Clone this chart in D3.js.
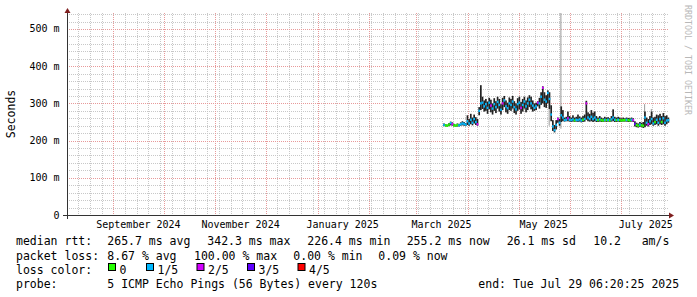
<!DOCTYPE html>
<html>
<head>
<meta charset="utf-8">
<script src="https://cdn.jsdelivr.net/npm/d3@7/dist/d3.min.js"></script>
<style>
  body { margin: 0; background: #fff; }
  svg text { font-family: "DejaVu Sans Mono", monospace; fill: #000; }
</style>
</head>
<body>
<svg id="chart" width="697" height="297"></svg>
<script>
// one value per day, Mar 17 .. Jul 29 2025
const dates = [
  "03-17","03-18","03-19","03-20","03-21","03-22","03-23","03-24","03-25","03-26","03-27","03-28","03-29","03-30","03-31",
  "04-01","04-02","04-03","04-04","04-05","04-06","04-07","04-08","04-09","04-10","04-11","04-12","04-13","04-14","04-15",
  "04-16","04-17","04-18","04-19","04-20","04-21","04-22","04-23","04-24","04-25","04-26","04-27","04-28","04-29","04-30",
  "05-01","05-02","05-03","05-04","05-05","05-06","05-07","05-08","05-09","05-10","05-11","05-12","05-13","05-14","05-15",
  "05-16","05-17","05-18","05-19","05-20","05-21","05-22","05-23","05-24","05-25","05-26","05-27","05-28","05-29","05-30","05-31",
  "06-01","06-02","06-03","06-04","06-05","06-06","06-07","06-08","06-09","06-10","06-11","06-12","06-13","06-14","06-15",
  "06-16","06-17","06-18","06-19","06-20","06-21","06-22","06-23","06-24","06-25","06-26","06-27","06-28","06-29","06-30",
  "07-01","07-02","07-03","07-04","07-05","07-06","07-07","07-08","07-09","07-10","07-11","07-12","07-13","07-14","07-15",
  "07-16","07-17","07-18","07-19","07-20","07-21","07-22","07-23","07-24","07-25","07-26","07-27","07-28","07-29"
];
// median rtt in ms
const median = [
  242,241,240,243,247,244,241,240,242,241,244,246,245,243,
  252,246,256,248,258,250,244,280,300,
  302,292,298,288,302,294,286,298,290,304,296,283,300,308,292,287,300,296,305,290,284,298,302,288,296,305,292,300,310,300,
  294,288,292,302,300,318,342,310,305,328,312,270,238,228,242,258,248,268,262,
  255,256,260,256,255,257,254,256,255,257,254,256,258,300,262,258,264,258,262,256,
  255,257,255,254,256,255,256,254,257,262,256,255,256,255,254,255,255,256,255,254,256,255,
  245,242,240,243,241,240,262,248,244,252,258,246,250,256,248,258,250,260,248,254,255
];
// dark smoke band (inner pings)
const smokeLo = [
  239,238,237,239,241,240,238,237,238,238,240,241,240,239,
  242,240,244,241,246,242,240,268,282,
  285,278,280,272,284,276,270,280,274,286,278,270,282,290,276,272,282,280,286,274,270,280,284,272,278,286,276,282,290,284,
  278,280,282,292,286,296,300,290,288,300,285,252,226,222,230,248,240,250,252,
  251,252,252,251,250,251,250,251,250,251,249,250,251,256,252,251,252,250,252,250,
  250,251,250,250,251,250,251,250,251,252,250,250,251,250,250,251,251,251,250,250,251,250,
  238,236,235,237,236,234,236,240,238,242,244,240,242,244,240,244,242,244,240,244,248
];
const smokeHi = [
  246,244,243,247,251,249,245,243,246,245,249,252,250,247,
  268,258,272,262,270,263,258,290,349,
  318,308,312,305,315,310,300,314,306,318,312,298,315,320,308,302,316,312,320,306,300,314,318,304,312,318,308,316,322,318,
  308,300,302,306,315,330,346,330,322,335,330,295,255,242,255,262,258,292,282,
  262,264,278,266,262,268,262,264,270,265,262,266,270,307,276,272,282,275,278,266,
  262,266,262,260,264,262,263,260,266,284,264,262,264,262,260,262,260,262,261,260,262,260,
  252,248,246,250,248,250,278,262,258,266,278,262,264,270,268,272,266,274,266,268,262
];
// lost pings out of 5
const loss = [
  1,0,0,0,1,2,0,0,0,1,1,1,1,1,
  1,1,1,1,1,1,2,1,1,
  1,1,1,1,1,2,1,1,1,1,1,1,2,1,1,1,1,1,1,1,1,1,1,2,1,1,1,1,1,1,
  1,1,1,2,1,1,2,1,1,1,1,1,1,1,1,2,1,1,1,
  1,1,2,1,1,1,0,1,1,1,1,0,1,2,1,1,1,1,1,1,
  0,1,0,0,1,0,1,0,1,1,1,0,1,0,0,0,0,1,0,0,1,2,
  3,0,0,1,0,0,1,1,2,1,1,1,0,1,1,1,0,1,1,1,1
];
// outer pings (light smoke)
const spikeDates = ["05-19", "05-26", "07-15", "07-19"];
const spikeLo = [240, 232, 236, 244];
const spikeHi = [300, 543, 298, 285];

const yTicks = [0, 100, 200, 300, 400, 500];
const yTickLabels = ["0", "100 m", "200 m", "300 m", "400 m", "500 m"];
const monthLabels = ["September 2024", "November 2024", "January 2025", "March 2025", "May 2025", "July 2025"];
const monthLabelDates = ["2024-09-16", "2024-11-16", "2025-01-16", "2025-03-16", "2025-05-16", "2025-07-16"];

const lossLabels = ["0", "1/5", "2/5", "3/5", "4/5"];
const lossColors = ["#26ff00", "#00b8ff", "#d300ff", "#5e00ff", "#ff0000"];

const parseDay = d3.timeParse("%Y-%m-%d");
const days = dates.map(d => parseDay("2025-" + d));

let svg = d3.select("#chart");
let pLeft = 67, pRight = 668, pTop = 13, pBottom = 215;

let x = d3.scaleTime()
    .domain([new Date(2024, 7, 4, 8, 24), new Date(2025, 6, 29, 6, 20, 25)])
    .range([pLeft, pRight]);
let y = d3.scaleLinear().domain([0, 543]).range([pBottom, pTop]);

svg.append("rect").attr("width", 697).attr("height", 297).attr("fill", "#fff");

// grid
let grid = svg.append("g");
let minorY = d3.range(20, 543, 20).filter(v => v % 100 != 0);
grid.selectAll(".hmin").data(minorY).join("line")
    .attr("x1", pLeft).attr("x2", pRight)
    .attr("y1", d => Math.round(y(d)) + 0.5).attr("y2", d => Math.round(y(d)) + 0.5)
    .attr("stroke", "#c8c8c8").attr("stroke-dasharray", "1,1");
let weeks = d3.timeWeek.range(x.domain()[0], x.domain()[1]);
grid.selectAll(".vmin").data(weeks).join("line")
    .attr("x1", d => Math.round(x(d)) + 0.5).attr("x2", d => Math.round(x(d)) + 0.5)
    .attr("y1", pTop).attr("y2", pBottom)
    .attr("stroke", "#c8c8c8").attr("stroke-dasharray", "1,1");
grid.selectAll(".hmaj").data(yTicks.slice(1)).join("line")
    .attr("x1", pLeft).attr("x2", pRight)
    .attr("y1", d => Math.round(y(d)) + 0.5).attr("y2", d => Math.round(y(d)) + 0.5)
    .attr("stroke", "#e89a9a").attr("stroke-dasharray", "1,1");
let months = d3.timeMonth.range(x.domain()[0], x.domain()[1]);
grid.selectAll(".vmaj").data(months).join("line")
    .attr("x1", d => Math.round(x(d)) + 0.5).attr("x2", d => Math.round(x(d)) + 0.5)
    .attr("y1", pTop).attr("y2", pBottom)
    .attr("stroke", "#e89a9a").attr("stroke-dasharray", "1,1");

// smoke
let dayW = x(days[1]) - x(days[0]);
svg.append("g").selectAll("rect").data(spikeDates).join("rect")
    .attr("x", d => x(parseDay("2025-" + d)))
    .attr("width", dayW * 0.6)
    .attr("y", (d, i) => y(spikeHi[i]))
    .attr("height", (d, i) => y(spikeLo[i]) - y(spikeHi[i]))
    .attr("fill", "#999");
svg.append("g").selectAll("rect").data(days).join("rect")
    .attr("x", d => x(d))
    .attr("width", dayW)
    .attr("y", (d, i) => y(smokeHi[i]))
    .attr("height", (d, i) => y(smokeLo[i]) - y(smokeHi[i]))
    .attr("fill", "#222");

// median, coloured by loss
svg.append("g").selectAll("rect").data(days).join("rect")
    .attr("x", d => x(d))
    .attr("width", dayW)
    .attr("y", (d, i) => y(median[i]) - 1.2)
    .attr("height", 2.4)
    .attr("fill", (d, i) => lossColors[loss[i]]);

// axes
svg.append("line").attr("x1", 63).attr("x2", 670).attr("y1", pBottom + 0.5).attr("y2", pBottom + 0.5)
    .attr("stroke", "#333");
svg.append("line").attr("x1", pLeft + 0.5).attr("x2", pLeft + 0.5).attr("y1", pBottom + 4).attr("y2", 11)
    .attr("stroke", "#333");
svg.append("path").attr("d", "M669,212.5 L674,215.5 L669,218.5 Z").attr("fill", "#7f1f1f");
svg.append("path").attr("d", "M64.5,13 L67.5,8 L70.5,13 Z").attr("fill", "#7f1f1f");

// tick labels
svg.append("g").selectAll("text").data(yTicks).join("text")
    .attr("x", 59.5).attr("y", d => y(d) + 3.5)
    .attr("text-anchor", "end").attr("font-size", 10)
    .text((d, i) => yTickLabels[i]);
svg.append("g").selectAll("text").data(monthLabels).join("text")
    .attr("x", (d, i) => x(parseDay(monthLabelDates[i])))
    .attr("y", 228)
    .attr("text-anchor", "middle").attr("font-size", 10)
    .text(d => d);

svg.append("text").attr("transform", "translate(14.5,114) rotate(-90)")
    .attr("text-anchor", "middle").attr("font-size", 11.5).text("Seconds");
svg.append("text").attr("transform", "translate(685,5) rotate(90)")
    .attr("font-size", 8.3).style("fill", "#b8b8b8").text("RRDTOOL / TOBI OETIKER");

// legend
let fs = 11.5;
function put(xp, yp, s) {
    svg.append("text").attr("x", xp).attr("y", yp).attr("font-size", fs).text(s);
}
put(16, 245, "median rtt:");
put(107.3, 245, "265.7 ms avg");
put(207.3, 245, "342.3 ms max");
put(307.3, 245, "226.4 ms min");
put(406.7, 245, "255.2 ms now");
put(506.7, 245, "26.1 ms sd");
put(593.3, 245, "10.2");
put(641.7, 245, "am/s");

put(16, 259.5, "packet loss:");
put(107.3, 259.5, "8.67 % avg");
put(194, 259.5, "100.00 % max");
put(293.3, 259.5, "0.00 % min");
put(378.3, 259.5, "0.09 % now");

put(16, 273.5, "loss color:");
let boxX = [108.5, 146.5, 197, 247.5, 298];
let lbl = svg.append("g");
lbl.selectAll("rect").data(lossLabels).join("rect")
    .attr("x", (d, i) => boxX[i]).attr("y", 263.5)
    .attr("width", 7).attr("height", 7)
    .attr("fill", (d, i) => lossColors[i])
    .attr("stroke", "#000");
lbl.selectAll("text").data(lossLabels).join("text")
    .attr("x", (d, i) => boxX[i] + 11).attr("y", 273.5)
    .attr("font-size", fs).text(d => d);

put(16, 287.5, "probe:");
put(107.3, 287.5, "5 ICMP Echo Pings (56 Bytes) every 120s");
put(478.3, 287.5, "end: Tue Jul 29 06:20:25 2025");
</script>
</body>
</html>
